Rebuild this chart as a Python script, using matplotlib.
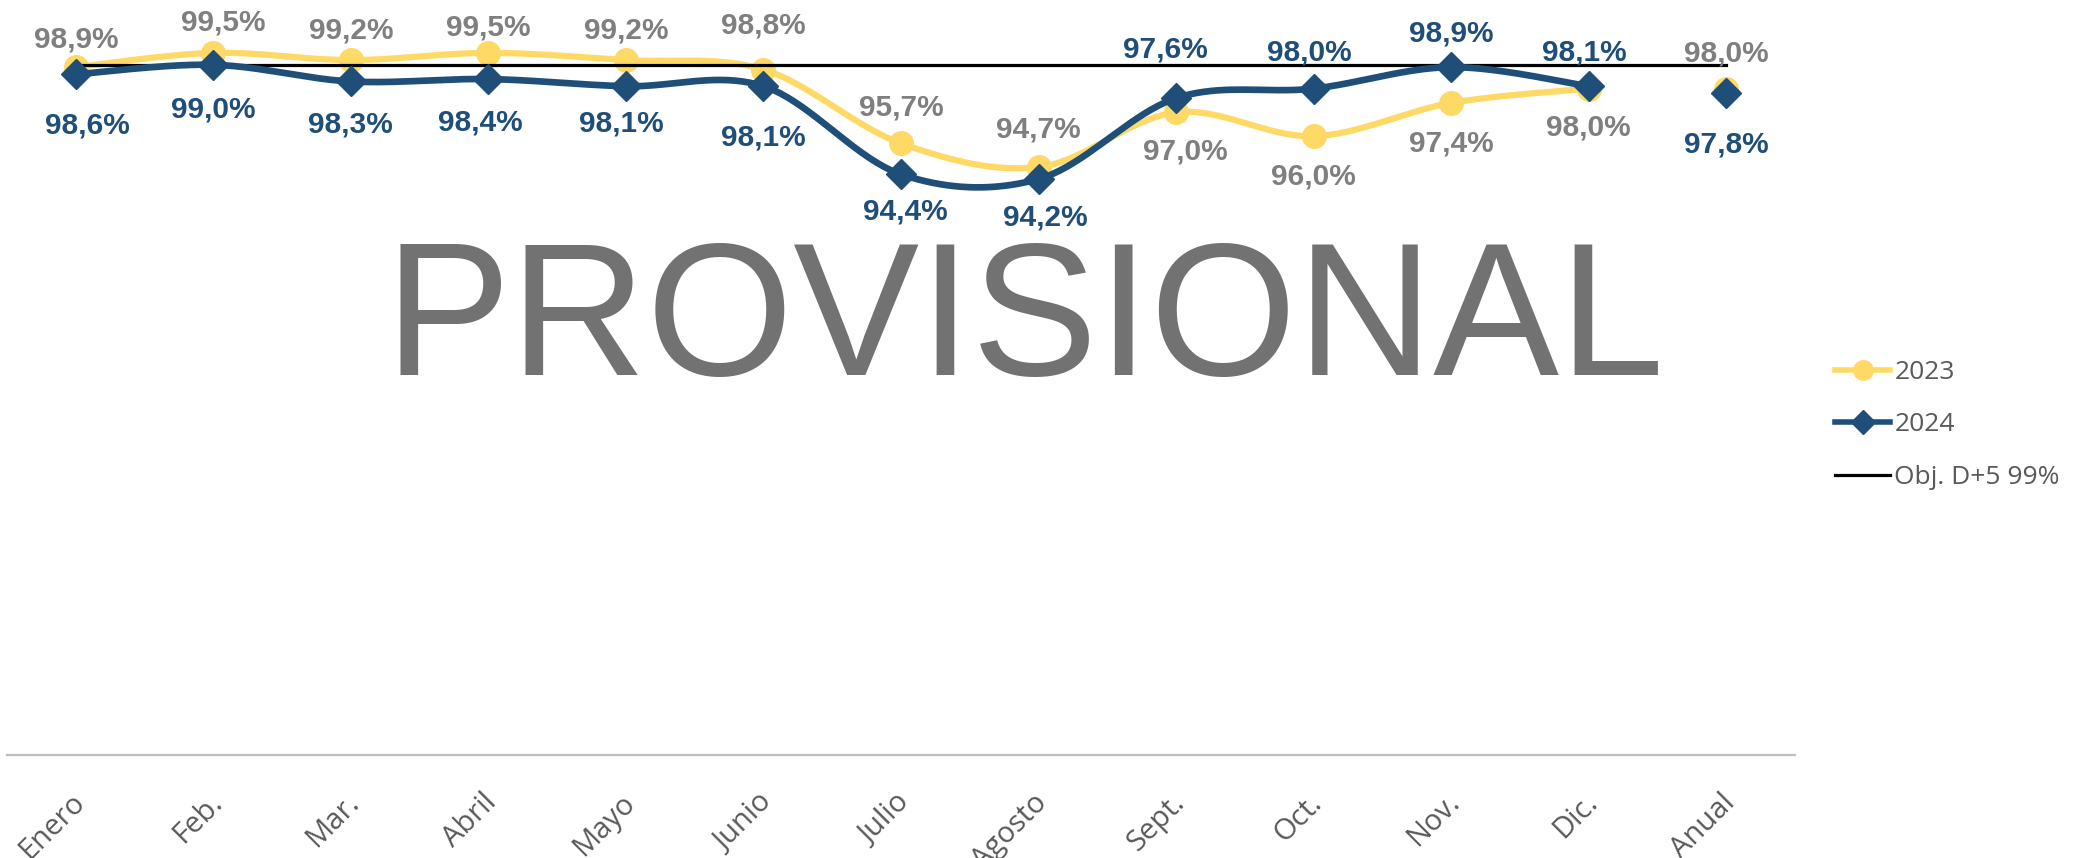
import numpy as np
import matplotlib
matplotlib.use("Agg")
import matplotlib.pyplot as plt
import matplotlib.transforms as mtransforms
from matplotlib.lines import Line2D

# ---- data ----
categories = ["Enero", "Feb.", "Mar.", "Abril", "Mayo", "Junio", "Julio",
              "Agosto", "Sept.", "Oct.", "Nov.", "Dic.", "Anual"]
values_2023 = [98.9, 99.5, 99.2, 99.5, 99.2, 98.8, 95.7, 94.7, 97.0, 96.0, 97.4, 98.0]
annual_2023 = 98.0
values_2024 = [98.6, 99.0, 98.3, 98.4, 98.1, 98.1, 94.4, 94.2, 97.6, 98.0, 98.9, 98.1]
annual_2024 = 97.8
objective = 99.0
series_names = ["2023", "2024", "Obj. D+5 99%"]

# label offsets in points (dx, dy), positive dy = above the point
off_2023 = [(0, 20), (7, 22), (0, 21), (0, 18), (0, 21), (0, 32), (0, 26), (0, 27),
            (7, -28), (0, -29), (0, -29), (0, -28), (0, 25)]
off_2024 = [(8, -37), (0, -32), (0, -31), (-6, -31), (-3, -27), (0, -37), (3, -27), (5, -28),
            (-8, 35), (-3, 26), (0, 24), (-3, 24), (0, -37)]

YELLOW = "#FFD966"
BLUE = "#1F4E79"
GRAY_LBL = "#7F7F7F"
TICK_CLR = "#595959"

W, H, DPI = 2087, 858, 100
fig = plt.figure(figsize=(W / DPI, H / DPI), dpi=DPI)
ax = fig.add_axes([7 / W, 1 - 755 / H, (1795 - 7) / W, (755 - 41) / H])


def smooth(xs, ys, n=40):
    pts = np.column_stack([xs, ys]).astype(float)
    P = np.vstack([pts[0], pts, pts[-1]])
    out = []
    t = np.linspace(0, 1, n)[:, None]
    for i in range(1, len(P) - 2):
        p0, p1, p2, p3 = P[i - 1], P[i], P[i + 1], P[i + 2]
        c1 = p1 + (p2 - p0) / 6.0
        c2 = p2 - (p3 - p1) / 6.0
        b = ((1 - t) ** 3) * p1 + 3 * ((1 - t) ** 2) * t * c1 + 3 * (1 - t) * t ** 2 * c2 + t ** 3 * p2
        out.append(b)
    return np.vstack(out)


xm = np.arange(len(values_2023))
xa = len(categories) - 1

# 2023 series
s23 = smooth(xm, values_2023)
ax.plot(s23[:, 0], s23[:, 1], color=YELLOW, lw=4.5, solid_capstyle="round", zorder=2)
ax.plot(list(xm) + [xa], values_2023 + [annual_2023], ls="none", marker="o",
        ms=17, color=YELLOW, zorder=2.5)

# objective line
ax.plot([0, xa], [objective, objective], color="black", lw=2.3, zorder=3)

# 2024 series
s24 = smooth(xm, values_2024)
ax.plot(s24[:, 0], s24[:, 1], color=BLUE, lw=4.8, solid_capstyle="round", zorder=4)
ax.plot(list(xm) + [xa], values_2024 + [annual_2024], ls="none", marker="D",
        ms=15, color=BLUE, zorder=4.5)

ax.set_xlim(-0.5, len(categories) - 0.5)
ax.set_ylim(70, 100)


def fmt(v):
    return f"{v:.1f}%".replace(".", ",")


lbl_font = dict(family=["Liberation Sans", "DejaVu Sans"], fontsize=21.5, fontweight="bold")
all23 = values_2023 + [annual_2023]
all24 = values_2024 + [annual_2024]
for i, (v, o) in enumerate(zip(all23, off_2023)):
    ax.annotate(fmt(v), (i, v), xytext=o, textcoords="offset points",
                ha="center", va="center", color=GRAY_LBL, zorder=6, **lbl_font)
for i, (v, o) in enumerate(zip(all24, off_2024)):
    ax.annotate(fmt(v), (i, v), xytext=o, textcoords="offset points",
                ha="center", va="center", color=BLUE, zorder=6, **lbl_font)

# axes styling
for s in ["left", "right", "top"]:
    ax.spines[s].set_visible(False)
ax.spines["bottom"].set_color("#BFBFBF")
ax.spines["bottom"].set_linewidth(1.6)
ax.set_yticks([])
ax.set_xticks(range(len(categories)))
ax.set_xticklabels(categories, rotation=45, ha="right", va="top",
                   rotation_mode="anchor", fontsize=21, color=TICK_CLR,
                   family=["Open Sans", "DejaVu Sans"])
ax.tick_params(axis="x", length=0, pad=24)
shift = mtransforms.ScaledTranslation(-6 / DPI, 0, fig.dpi_scale_trans)
for lab in ax.get_xticklabels():
    lab.set_transform(lab.get_transform() + shift)

# watermark
fig.text(384 / W, 1 - 375 / H, "PROVISIONAL", fontsize=136, color="#727272",
         family=["Liberation Sans", "DejaVu Sans"], ha="left", va="baseline", zorder=1)

# legend
handles = [
    Line2D([], [], color=YELLOW, lw=4, marker="o", ms=14),
    Line2D([], [], color=BLUE, lw=4, marker="D", ms=12),
    Line2D([], [], color="black", lw=2.3),
]
leg = fig.legend(handles, series_names, loc="center left",
                 bbox_to_anchor=(1835 / W, 1 - 425 / H), frameon=False,
                 handlelength=2.1, handletextpad=0.15, labelspacing=1.05,
                 borderpad=0, borderaxespad=0,
                 prop=dict(family=["Open Sans", "DejaVu Sans"], size=19))
for t in leg.get_texts():
    t.set_color(TICK_CLR)

fig.savefig("out.png", dpi=DPI)
